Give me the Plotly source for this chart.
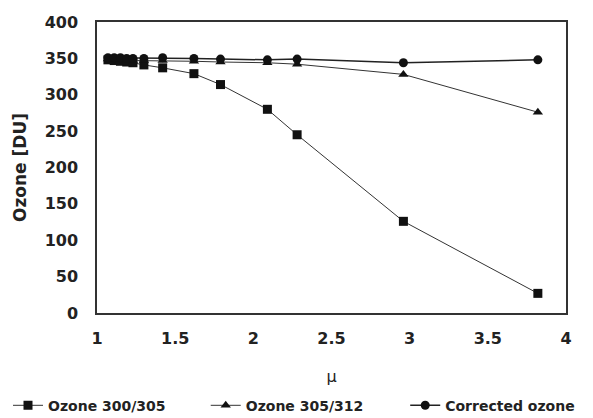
import plotly.graph_objects as go

mu = [1.07, 1.11, 1.15, 1.19, 1.23, 1.30, 1.42, 1.62, 1.79, 2.09, 2.28, 2.96, 3.82]
ozone_300_305 = [348, 347, 346, 345, 344, 341, 337, 329, 314, 280, 245, 126, 27]
ozone_305_312 = [349, 349, 348, 348, 347, 347, 347, 346, 345, 344, 342, 328, 276]
corrected = [351, 351, 351, 350, 350, 350, 351, 350, 349, 348, 349, 344, 348]

x_ticks = [1, 1.5, 2, 2.5, 3, 3.5, 4]
y_ticks = [0, 50, 100, 150, 200, 250, 300, 350, 400]

FONT = "DejaVu Sans, Arial, sans-serif"
lc = "#333333"

fig = go.Figure()
fig.add_trace(go.Scatter(x=mu, y=ozone_300_305, name="Ozone 300/305", mode="lines+markers",
                         line=dict(color=lc, width=1), legend="legend",
                         marker=dict(symbol="square", size=9, color="#111111")))
fig.add_trace(go.Scatter(x=mu, y=ozone_305_312, name="Ozone 305/312", mode="lines+markers",
                         line=dict(color=lc, width=1), legend="legend2",
                         marker=dict(symbol="triangle-up", size=9, color="#111111")))
fig.add_trace(go.Scatter(x=mu, y=corrected, name="Corrected ozone", mode="lines+markers",
                         line=dict(color="#222222", width=1.5), legend="legend3",
                         marker=dict(symbol="circle", size=9, color="#111111")))

leg_common = dict(orientation="h", xref="container", yref="container", y=0.03,
                  xanchor="left", yanchor="middle",
                  font=dict(size=14, family=FONT, weight="bold"), itemwidth=30,
                  bgcolor="rgba(0,0,0,0)")

# the page body has an 8px margin, so the figure is sized to fit the window
fig.update_layout(
    width=585, height=410,
    margin=dict(l=89, r=27, t=14, b=105, autoexpand=False),
    paper_bgcolor="white", plot_bgcolor="white",
    font=dict(family=FONT, color="#222222"),
    showlegend=True,
    legend=dict(x=-0.007, **leg_common),
    legend2=dict(x=0.338, **leg_common),
    legend3=dict(x=0.679, **leg_common),
)
fig.update_xaxes(range=[1, 4], tickvals=x_ticks, ticktext=[str(v) for v in x_ticks],
                 showgrid=False, zeroline=False, showline=True, linecolor="#333333", linewidth=1.5,
                 mirror=True, ticks="", ticklabelstandoff=10,
                 tickfont=dict(size=16, family=FONT, weight="bold"),
                 title=dict(text="μ", font=dict(size=16, family=FONT), standoff=24))
fig.update_yaxes(range=[0, 400], tickvals=y_ticks,
                 showgrid=False, zeroline=False, showline=True, linecolor="#333333", linewidth=1.5,
                 mirror=True, ticks="", ticklabelstandoff=14,
                 tickfont=dict(size=16, family=FONT, weight="bold"),
                 title=dict(text="Ozone [DU]", font=dict(size=17, family=FONT, weight="bold"), standoff=14))

fig.write_html("out.html")
